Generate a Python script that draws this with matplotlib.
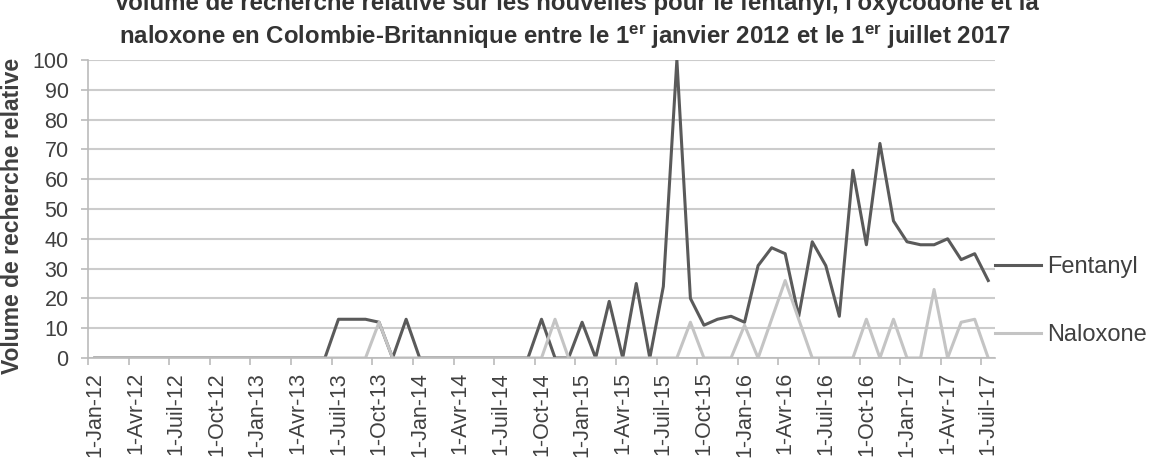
import matplotlib.pyplot as plt
import numpy as np

plt.rcParams['font.family'] = ['Liberation Sans', 'DejaVu Sans']
plt.rcParams['mathtext.fontset'] = 'custom'
plt.rcParams['mathtext.rm'] = 'Liberation Sans:bold'
plt.rcParams['mathtext.bf'] = 'Liberation Sans:bold'

# valeurs mensuelles, de janvier 2012 a juillet 2017 (67 mois)
fentanyl = [0] * 18 + [13, 13, 13, 12, 0, 13, 0] + [0] * 8 + \
    [13, 0, 0, 12, 0, 19, 0, 25, 0, 24, 100, 20, 11, 13, 14, 12, 31, 37, 35, 14,
     39, 31, 14, 63, 38, 72, 46, 39, 38, 38, 40, 33, 35, 26]
naloxone = [0] * 21 + [12, 0] + [0] * 11 + \
    [13, 0, 0, 0, 0, 0, 0, 0, 0, 0, 12, 0, 0, 0, 11, 0, 13, 26, 13, 0, 0,
     0, 0, 13, 0, 13, 0, 0, 23, 0, 12, 13, 0]

etiquettes = ['1-Jan-12', '1-Avr-12', '1-Juil-12', '1-Oct-12',
              '1-Jan-13', '1-Avr-13', '1-Juil-13', '1-Oct-13',
              '1-Jan-14', '1-Avr-14', '1-Juil-14', '1-Oct-14',
              '1-Jan-15', '1-Avr-15', '1-Juil-15', '1-Oct-15',
              '1-Jan-16', '1-Avr-16', '1-Juil-16', '1-Oct-16',
              '1-Jan-17', '1-Avr-17', '1-Juil-17']

mois = np.arange(len(fentanyl))
gris_texte = '#404040'

fig = plt.figure(figsize=(11.56, 4.68), dpi=100)
ax = fig.add_axes([88 / 1156, 1 - 358 / 468, 907 / 1156, 298 / 468])

ax.plot(mois, fentanyl, color='#5a5a5a', lw=2.2, label='Fentanyl')
ax.plot(mois, naloxone, color='#c4c4c4', lw=2.2, label='Naloxone')

ax.set_xlim(-0.5, len(mois) - 0.5)
ax.set_ylim(0, 100)
ax.set_yticks(np.arange(0, 101, 10))
ax.yaxis.grid(True, color='#cccccc', lw=1.5)
ax.set_axisbelow(True)

ax.set_xticks(mois[::3])
ax.set_xticklabels(etiquettes, rotation=90, fontsize=15.5, color=gris_texte)
ax.set_xticks(np.arange(-0.5, len(mois), 3), minor=True)
ax.tick_params(axis='x', which='major', length=0, pad=10)
ax.tick_params(axis='x', which='minor', length=5, color='#bbbbbb', width=1.2)
ax.tick_params(axis='y', length=5, color='#bbbbbb', width=1.2, pad=9,
               labelsize=15.5, labelcolor=gris_texte)

for cote in ['top', 'right']:
    ax.spines[cote].set_visible(False)
for cote in ['left', 'bottom']:
    ax.spines[cote].set_color('#bbbbbb')
    ax.spines[cote].set_linewidth(1.2)

ax.set_ylabel('Volume de recherche relative', fontsize=16.5, fontweight='bold',
              color=gris_texte)
ax.yaxis.set_label_coords(-0.071, 0.476)

ax.legend(loc='center left', bbox_to_anchor=(1.0, 0.19), frameon=False,
          fontsize=17, handlelength=1.95, handletextpad=0.25, labelspacing=1.95,
          borderpad=0, borderaxespad=0, labelcolor=gris_texte)

fig.text(0.499, 0.992, "Volume de recherche relative sur les nouvelles pour le fentanyl, l'oxycodone et la",
         ha='center', va='center', fontsize=17.3, fontweight='bold', color='#333333')
fig.text(0.489, 0.921, r'naloxone en Colombie-Britannique entre le 1$^{\mathbf{er}}$ janvier 2012 et le 1$^{\mathbf{er}}$ juillet 2017',
         ha='center', va='center', fontsize=17.3, fontweight='bold', color='#333333')

fig.savefig('out.png', dpi=100)
